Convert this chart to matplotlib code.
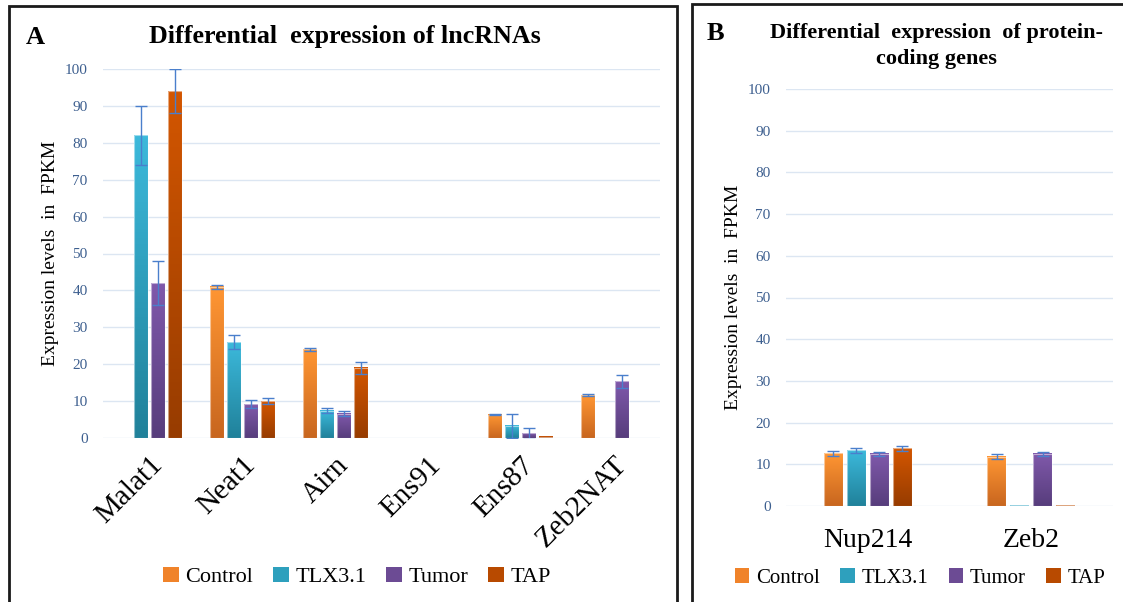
import numpy as np
import matplotlib.pyplot as plt
from matplotlib.patches import Patch, Rectangle
from matplotlib.colors import LinearSegmentedColormap

# expression levels (FPKM) and error bars
groups = ["Control", "TLX3.1", "Tumor", "TAP"]

lnc_genes = ["Malat1", "Neat1", "Airn", "Ens91", "Ens87", "Zeb2NAT"]
lnc_control = [0, 41.0, 24.0, 0, 6.3, 11.6]
lnc_tlx = [82.0, 26.0, 7.4, 0, 3.3, 0]
lnc_tumor = [42.0, 9.2, 6.6, 0, 1.3, 15.4]
lnc_tap = [94.0, 10.0, 19.0, 0, 0.3, 0]
lnc_control_err = [0, 0.5, 0.3, 0, 0.2, 0.2]
lnc_tlx_err = [8.0, 2.0, 0.6, 0, 3.3, 0]
lnc_tumor_err = [6.0, 1.0, 0.7, 0, 1.5, 1.8]
lnc_tap_err = [6.0, 0.8, 1.7, 0, 0, 0]

pc_genes = ["Nup214", "Zeb2"]
pc_control = [12.6, 11.8]
pc_tlx = [13.4, 0.2]
pc_tumor = [12.5, 12.5]
pc_tap = [13.8, 0.2]
pc_control_err = [0.5, 0.6]
pc_tlx_err = [0.6, 0]
pc_tumor_err = [0.4, 0.4]
pc_tap_err = [0.7, 0]

# top / bottom shades of each series
shades = [("#ff9633", "#c8661f"), ("#3cb9db", "#20819a"),
          ("#8059ab", "#573d7c"), ("#d35600", "#973c00")]
mid = ["#f0832a", "#2ea0bd", "#6c4b94", "#b84a00"]

plt.rcParams["font.family"] = ["Liberation Serif", "DejaVu Serif"]

fig = plt.figure(figsize=(11.23, 6.02), dpi=100)


def fig_box(x0, y0, x1, y1):
    W, H = 1123, 602
    fig.patches.append(Rectangle((x0 / W, 1 - y1 / H), (x1 - x0) / W, (y1 - y0) / H,
                                 transform=fig.transFigure, fill=False,
                                 edgecolor="#1a1a1a", linewidth=2))


def grad_bars(ax, x, heights, errs, width, top, bottom):
    bars = ax.bar(x, heights, width, color="none", edgecolor="none")
    cmap = LinearSegmentedColormap.from_list("g", [bottom, top])
    grad = np.linspace(1, 0, 100).reshape(-1, 1)
    for b in bars:
        h = b.get_height()
        if h <= 0:
            continue
        x0 = b.get_x()
        ax.imshow(grad, cmap=cmap, vmin=0, vmax=1, aspect="auto", zorder=2,
                  extent=[x0, x0 + b.get_width(), 0, h])
        ax.add_patch(Rectangle((x0, 0), b.get_width(), h, fill=False,
                               edgecolor="white", alpha=0.5, linewidth=0.8, zorder=3))
    xe = [xi for xi, e in zip(x, errs) if e > 0]
    he = [hi for hi, e in zip(heights, errs) if e > 0]
    ee = [e for e in errs if e > 0]
    ax.errorbar(xe, he, yerr=ee, fmt="none", ecolor="#4a7fcc", elinewidth=1,
                capsize=4, capthick=1, zorder=4)


def style_axis(ax, ncat):
    ax.set_ylim(0, 100)
    ax.set_xlim(-0.5, ncat - 0.5)
    ax.set_yticks(range(0, 101, 10))
    ax.yaxis.grid(True, color="#dce6f2", linewidth=1)
    ax.set_axisbelow(True)
    for s in ax.spines.values():
        s.set_visible(False)
    ax.tick_params(axis="y", length=0, labelsize=11, labelcolor="#3d5f8f", pad=11)
    ax.tick_params(axis="x", length=0)


# panel A: lncRNAs
axA = fig.add_axes([103 / 1123, 1 - 438 / 602, 557 / 1123, 369 / 602])
xa = np.arange(len(lnc_genes))
wa, sa = 0.15, 0.183
for i, (vals, errs) in enumerate([(lnc_control, lnc_control_err), (lnc_tlx, lnc_tlx_err),
                                  (lnc_tumor, lnc_tumor_err), (lnc_tap, lnc_tap_err)]):
    grad_bars(axA, xa + (i - 1.5) * sa, vals, errs, wa, *shades[i])
style_axis(axA, len(lnc_genes))
axA.set_xticks(xa)
axA.set_xticklabels(lnc_genes, rotation=45, ha="right", rotation_mode="anchor",
                    fontsize=21)
axA.tick_params(axis="x", pad=10)
axA.set_ylabel("Expression levels  in  FPKM", fontsize=14, labelpad=4)

# panel B: protein-coding genes
axB = fig.add_axes([786 / 1123, 1 - 506 / 602, 327 / 1123, 417 / 602])
xb = np.arange(len(pc_genes))
wb, sb = 0.116, 0.14
for i, (vals, errs) in enumerate([(pc_control, pc_control_err), (pc_tlx, pc_tlx_err),
                                  (pc_tumor, pc_tumor_err), (pc_tap, pc_tap_err)]):
    grad_bars(axB, xb + (i - 1.5) * sb, vals, errs, wb, *shades[i])
style_axis(axB, len(pc_genes))
axB.set_xticks(xb)
axB.set_xticklabels(pc_genes, fontsize=20)
axB.tick_params(axis="x", pad=16)
axB.set_ylabel("Expression levels  in  FPKM", fontsize=14, labelpad=4)

# titles and panel letters
fig.text(345 / 1123, 1 - 37 / 602, "Differential  expression of lncRNAs",
         ha="center", va="center", fontsize=18.7, fontweight="bold")
fig.text(35 / 1123, 1 - 37 / 602, "A", ha="center", va="center",
         fontsize=19, fontweight="bold")
fig.text(936 / 1123, 1 - 46 / 602, "Differential  expression  of protein-\ncoding genes",
         ha="center", va="center", fontsize=16, fontweight="bold", linespacing=1.45)
fig.text(715 / 1123, 1 - 33 / 602, "B", ha="center", va="center",
         fontsize=19, fontweight="bold")

# legends
handles = [Patch(facecolor=c, edgecolor="none") for c in mid]
fig.legend(handles, groups, loc="center", bbox_to_anchor=(357 / 1123, 1 - 577 / 602),
           ncol=4, frameon=False, fontsize=16, handlelength=0.7, handleheight=0.7,
           handletextpad=0.3, columnspacing=0.9)
fig.legend(handles, groups, loc="center", bbox_to_anchor=(920 / 1123, 1 - 578 / 602),
           ncol=4, frameon=False, fontsize=15, handlelength=0.7, handleheight=0.7,
           handletextpad=0.3, columnspacing=1.0)

# panel frames
fig_box(9, 6, 677, 606)
fig_box(692, 4, 1130, 606)

fig.savefig("out.png", dpi=100)
